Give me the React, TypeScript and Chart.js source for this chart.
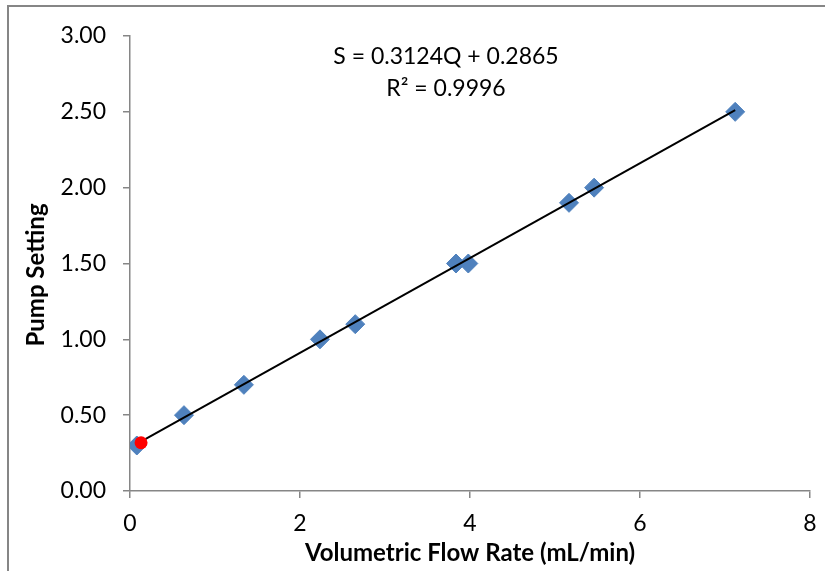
import React, { useEffect, useRef } from "react";
import { Chart, registerables } from "chart.js";

Chart.register(...registerables);

// Data
const flowRates = [0.08, 0.635, 1.34, 2.235, 2.65, 3.835, 3.98, 5.165, 5.46, 7.12];
const pumpSettings = [0.3, 0.5, 0.7, 1.0, 1.1, 1.5, 1.5, 1.9, 2.0, 2.5];
const trendX = [0.08, 7.12];
const trendY = [0.3115, 2.5108];
const highlightX = [0.13];
const highlightY = [0.318];
const xTicks = [0, 2, 4, 6, 8];
const yTicks = [0, 0.5, 1, 1.5, 2, 2.5, 3];
const equationLines = ["S = 0.3124Q + 0.2865", "R² = 0.9996"];
const xTitle = "Volumetric Flow Rate (mL/min)";
const yTitle = "Pump Setting";

const FONT = "Lato, 'Open Sans', sans-serif";
const AXIS_GRAY = "#868686";

const toPoints = (xs: number[], ys: number[]) => xs.map((x, i) => ({ x, y: ys[i] }));

const framePlugin = {
  id: "frame",
  beforeDraw(chart: any) {
    const ctx = chart.ctx;
    ctx.save();
    ctx.strokeStyle = AXIS_GRAY;
    ctx.lineWidth = 2;
    ctx.strokeRect(8, 6, 1000, 1000);
    ctx.restore();
  },
};

const labelsPlugin = {
  id: "labels",
  afterDraw(chart: any) {
    const ctx = chart.ctx;
    ctx.save();
    ctx.fillStyle = "#000";
    ctx.textAlign = "center";
    ctx.textBaseline = "middle";
    ctx.font = `23px ${FONT}`;
    ctx.fillText(equationLines[0], 446, 57);
    ctx.fillText(equationLines[1], 446, 89);
    // y-axis title
    ctx.font = `bold 24px ${FONT}`;
    ctx.translate(36, 275);
    ctx.rotate(-Math.PI / 2);
    ctx.fillText(yTitle, 0, 0);
    ctx.restore();
  },
};

export default function App() {
  const ref = useRef<HTMLCanvasElement | null>(null);

  useEffect(() => {
    if (!ref.current) return;
    const chart = new Chart(ref.current, {
      type: "scatter",
      data: {
        datasets: [
          {
            label: "highlight",
            data: toPoints(highlightX, highlightY),
            pointStyle: "circle",
            pointRadius: 6.5,
            backgroundColor: "#FF0000",
            borderColor: "#FF0000",
            borderWidth: 0,
          },
          {
            label: "trend",
            data: toPoints(trendX, trendY),
            showLine: true,
            borderColor: "#000",
            borderWidth: 2,
            pointRadius: 0,
            fill: false,
          },
          {
            label: "data",
            data: toPoints(flowRates, pumpSettings),
            pointStyle: "rectRot",
            pointRadius: 9.5,
            backgroundColor: "#4F81BD",
            borderColor: "#4F81BD",
            borderWidth: 1,
          },
        ],
      },
      options: {
        animation: false,
        responsive: true,
        maintainAspectRatio: false,
        layout: { padding: { left: 0, right: 15, top: 36, bottom: 0 } },
        plugins: {
          legend: { display: false },
          tooltip: { enabled: false },
        },
        scales: {
          x: {
            type: "linear",
            min: xTicks[0],
            max: xTicks[xTicks.length - 1],
            afterBuildTicks: (scale: any) => {
              scale.ticks = xTicks.map((v) => ({ value: v }));
            },
            afterFit: (scale: any) => {
              scale.height = 80;
              scale.paddingLeft = 0;
              scale.paddingRight = 0;
            },
            ticks: {
              color: "#000",
              font: { family: FONT, size: 23 },
              padding: 12,
              callback: (v: any) => String(v),
              maxRotation: 0,
            },
            grid: {
              drawOnChartArea: false,
              drawTicks: true,
              tickLength: 7,
              color: AXIS_GRAY,
              lineWidth: 1.5,
            },
            border: { display: true, color: AXIS_GRAY, width: 1.5 },
            title: {
              display: true,
              text: xTitle,
              color: "#000",
              font: { family: FONT, size: 24, weight: "bold" },
              padding: { top: 0, bottom: 3 },
            },
          },
          y: {
            type: "linear",
            min: yTicks[0],
            max: yTicks[yTicks.length - 1],
            afterBuildTicks: (scale: any) => {
              scale.ticks = yTicks.map((v) => ({ value: v }));
            },
            afterFit: (scale: any) => {
              scale.width = 130;
              scale.paddingTop = 0;
              scale.paddingBottom = 0;
            },
            ticks: {
              color: "#000",
              font: { family: FONT, size: 23 },
              padding: 17,
              callback: (v: any) => Number(v).toFixed(2),
            },
            grid: {
              drawOnChartArea: false,
              drawTicks: true,
              tickLength: 7,
              color: AXIS_GRAY,
              lineWidth: 1.5,
            },
            border: { display: true, color: AXIS_GRAY, width: 1.5 },
            title: { display: false },
          },
        },
      },
      plugins: [framePlugin, labelsPlugin],
    });
    return () => chart.destroy();
  }, []);

  return (
    <div style={{ position: "absolute", left: 0, top: 0, width: 825, height: 571, background: "#fff" }}>
      <canvas ref={ref} />
    </div>
  );
}
